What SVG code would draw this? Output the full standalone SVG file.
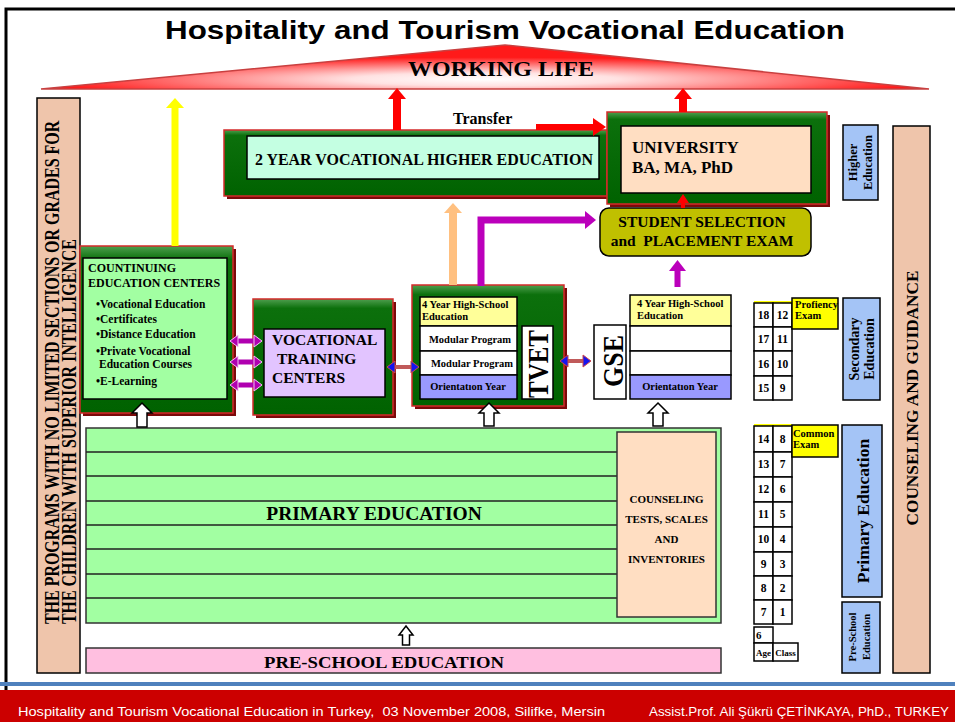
<svg xmlns="http://www.w3.org/2000/svg" width="955" height="722" viewBox="0 0 955 722">
<style>
.t{font-family:"Liberation Serif","Times New Roman",serif;font-weight:bold;fill:#000}
.g{fill:url(#grn);stroke:#d42a2a;stroke-width:1.5}
.sh{fill:#7a0a0a}
.k{stroke:#000;stroke-width:1.5}
.cell{fill:#fff;stroke:#000;stroke-width:1.5}
.side{fill:#a4c4f6;stroke:#000;stroke-width:1.5}
.peach{fill:#efc5ab;stroke:#000;stroke-width:1.5}
.wa{fill:#fff;stroke:#000;stroke-width:1.5}
.pa{fill:#b000b0;stroke:#f4c0f4;stroke-width:1}
.ba{fill:#1515f0;stroke:#d04848;stroke-width:1}
.yel{fill:#ffff00;stroke:#000;stroke-width:1.5}
.n{font-size:11.5px;text-anchor:middle}
.ft{font-family:"Liberation Sans",Arial,sans-serif;fill:#fff}
</style>
<defs>
<linearGradient id="grn" x1="0" y1="0" x2="0" y2="1">
<stop offset="0" stop-color="#4f9f4f"/><stop offset="0.08" stop-color="#0c700c"/><stop offset="1" stop-color="#006200"/>
</linearGradient>
<radialGradient id="wl" cx="0.5" cy="0.78" r="0.5">
<stop offset="0" stop-color="#ffffff"/><stop offset="0.3" stop-color="#ffe2e2"/><stop offset="1" stop-color="#ff1a1a"/>
</radialGradient>
</defs>
<rect width="955" height="722" fill="#fff"/>
<path d="M6,690 V9 H955" fill="none" stroke="#000" stroke-width="3"/>
<text x="505" y="39" text-anchor="middle" font-family="Liberation Sans,Arial,sans-serif" font-weight="bold" font-size="26" textLength="680" lengthAdjust="spacingAndGlyphs">Hospitality and Tourism Vocational Education</text>

<g id="working-life">
<polygon points="41,89 505,45 929,89" fill="url(#wl)" stroke="#c84040" stroke-width="1.5"/>
<text class="t" x="501" y="76" text-anchor="middle" font-size="22" textLength="186" lengthAdjust="spacingAndGlyphs">WORKING LIFE</text>
</g>

<g id="gifted-programs">
<rect x="37" y="98" width="43" height="575" class="peach"/>
<text class="t" transform="translate(59,624) rotate(-90) scale(0.8,1)" font-size="20" textLength="629" lengthAdjust="spacingAndGlyphs">THE PROGRAMS WITH NO LIMITED SECTIONS OR GRADES FOR</text>
<text class="t" transform="translate(76,624) rotate(-90) scale(0.8,1)" font-size="20" textLength="481" lengthAdjust="spacingAndGlyphs">THE CHILDREN WITH SUPERIOR INTELLIGENCE</text>
</g>

<g id="counseling-guidance">
<rect x="893" y="126" width="37" height="547" class="peach"/>
<text class="t" transform="translate(918,398) rotate(-90)" text-anchor="middle" font-size="17" textLength="255" lengthAdjust="spacingAndGlyphs">COUNSELING AND GUIDANCE</text>
</g>

<g id="higher-education">
<rect x="843" y="125" width="35" height="75" class="side"/>
<text class="t" transform="translate(857,162.5) rotate(-90)" text-anchor="middle" font-size="12.5">Higher</text>
<text class="t" transform="translate(872,162.5) rotate(-90)" text-anchor="middle" font-size="12.5">Education</text>
</g>
<g id="secondary-education">
<rect x="843" y="298" width="37" height="102" class="side"/>
<text class="t" transform="translate(859,349) rotate(-90)" text-anchor="middle" font-size="14">Secondary</text>
<text class="t" transform="translate(874,349) rotate(-90)" text-anchor="middle" font-size="14">Education</text>
</g>
<g id="primary-education-label">
<rect x="842" y="425" width="40" height="172" class="side"/>
<text class="t" transform="translate(869,511) rotate(-90)" text-anchor="middle" font-size="17.5">Primary Education</text>
</g>
<g id="preschool-education-label">
<rect x="842" y="602" width="38" height="71" class="side"/>
<text class="t" transform="translate(856,637) rotate(-90)" text-anchor="middle" font-size="10.5">Pre-School</text>
<text class="t" transform="translate(870,637) rotate(-90)" text-anchor="middle" font-size="10.5">Education</text>
</g>

<g id="age-table-upper">
<rect x="754" y="301" width="38" height="3" fill="#ffff00"/>
<rect x="754" y="303" width="19" height="24" class="cell"/><rect x="773" y="303" width="19" height="24" class="cell"/>
<rect x="754" y="327" width="19" height="24" class="cell"/><rect x="773" y="327" width="19" height="24" class="cell"/>
<rect x="754" y="351" width="19" height="25" class="cell"/><rect x="773" y="351" width="19" height="25" class="cell"/>
<rect x="754" y="376" width="19" height="24" class="cell"/><rect x="773" y="376" width="19" height="24" class="cell"/>
<text class="t n" x="763.5" y="319">18</text><text class="t n" x="782.5" y="319">12</text>
<text class="t n" x="763.5" y="343">17</text><text class="t n" x="782.5" y="343">11</text>
<text class="t n" x="763.5" y="368">16</text><text class="t n" x="782.5" y="368">10</text>
<text class="t n" x="763.5" y="392">15</text><text class="t n" x="782.5" y="392">9</text>
</g>
<g id="proficiency-exam">
<rect x="792" y="298" width="46" height="31" class="yel"/>
<text class="t" x="795" y="308" font-size="10.5">Profiency</text>
<text class="t" x="795" y="319" font-size="10.5">Exam</text>
</g>

<g id="age-table-lower">
<rect x="754" y="424" width="38" height="3" fill="#ffff00"/>
<rect x="754" y="426" width="19" height="26" class="cell"/><rect x="773" y="426" width="19" height="26" class="cell"/>
<rect x="754" y="452" width="19" height="25" class="cell"/><rect x="773" y="452" width="19" height="25" class="cell"/>
<rect x="754" y="477" width="19" height="25" class="cell"/><rect x="773" y="477" width="19" height="25" class="cell"/>
<rect x="754" y="502" width="19" height="25" class="cell"/><rect x="773" y="502" width="19" height="25" class="cell"/>
<rect x="754" y="527" width="19" height="25" class="cell"/><rect x="773" y="527" width="19" height="25" class="cell"/>
<rect x="754" y="552" width="19" height="24" class="cell"/><rect x="773" y="552" width="19" height="24" class="cell"/>
<rect x="754" y="576" width="19" height="24" class="cell"/><rect x="773" y="576" width="19" height="24" class="cell"/>
<rect x="754" y="600" width="19" height="24" class="cell"/><rect x="773" y="600" width="19" height="24" class="cell"/>
<text class="t n" x="763.5" y="443">14</text><text class="t n" x="782.5" y="443">8</text>
<text class="t n" x="763.5" y="468">13</text><text class="t n" x="782.5" y="468">7</text>
<text class="t n" x="763.5" y="493">12</text><text class="t n" x="782.5" y="493">6</text>
<text class="t n" x="763.5" y="518">11</text><text class="t n" x="782.5" y="518">5</text>
<text class="t n" x="763.5" y="543">10</text><text class="t n" x="782.5" y="543">4</text>
<text class="t n" x="763.5" y="568">9</text><text class="t n" x="782.5" y="568">3</text>
<text class="t n" x="763.5" y="592">8</text><text class="t n" x="782.5" y="592">2</text>
<text class="t n" x="763.5" y="616">7</text><text class="t n" x="782.5" y="616">1</text>
<rect x="754" y="627" width="19" height="16" class="cell"/>
<text class="t" x="756" y="639" font-size="11">6</text>
<rect x="754" y="643" width="19" height="18" class="cell"/>
<rect x="773" y="643" width="25" height="18" class="cell"/>
<text class="t" x="763.5" y="656" font-size="9" text-anchor="middle">Age</text>
<text class="t" x="785.5" y="656" font-size="9" text-anchor="middle">Class</text>
</g>
<g id="common-exam">
<rect x="792" y="425" width="46" height="32" class="yel"/>
<text class="t" x="793" y="437" font-size="10.5">Common</text>
<text class="t" x="793" y="448" font-size="10.5">Exam</text>
</g>

<g id="two-year-vocational">
<rect x="227" y="133" width="383" height="66" class="sh"/>
<rect x="224" y="130" width="383" height="66" class="g"/>
<rect x="247" y="136" width="352" height="43" fill="#c4ffe2" class="k"/>
<text class="t" x="255" y="165" font-size="16" textLength="338" lengthAdjust="spacingAndGlyphs">2 YEAR VOCATIONAL HIGHER EDUCATION</text>
</g>

<g id="university">
<rect x="610" y="115" width="220" height="92" class="sh"/>
<rect x="607" y="112" width="220" height="92" class="g"/>
<rect x="621" y="126" width="190" height="67" fill="#ffdec2" class="k"/>
<text class="t" x="632" y="153" font-size="17">UNIVERSITY</text>
<text class="t" x="632" y="173" font-size="17">BA, MA, PhD</text>
</g>

<g id="student-selection">
<rect x="600" y="208" width="211" height="48" rx="9" fill="#c0c000" class="k"/>
<text class="t" x="702" y="227" text-anchor="middle" font-size="15.5">STUDENT SELECTION</text>
<text class="t" x="702" y="246" text-anchor="middle" font-size="15.5" xml:space="preserve">and  PLACEMENT EXAM</text>
</g>

<g id="continuing-education">
<rect x="83" y="249" width="153" height="167" class="sh"/>
<rect x="80" y="246" width="153" height="167" class="g"/>
<rect x="83" y="258" width="144" height="141" fill="#a2ffa2" class="k"/>
<text class="t" x="88" y="272" font-size="12">COUNTINUING</text>
<text class="t" x="88" y="287" font-size="12">EDUCATION CENTERS</text>
<text class="t" x="96" y="308" font-size="11.5">•Vocational Education</text>
<text class="t" x="96" y="323" font-size="11.5">•Certificates</text>
<text class="t" x="96" y="338" font-size="11.5">•Distance Education</text>
<text class="t" x="96" y="355" font-size="11.5">•Private Vocational</text>
<text class="t" x="99" y="368" font-size="11.5">Education Courses</text>
<text class="t" x="96" y="385" font-size="11.5">•E-Learning</text>
</g>

<g id="vocational-training-centers">
<rect x="256" y="302" width="140" height="116" class="sh"/>
<rect x="253" y="299" width="140" height="116" class="g"/>
<rect x="264" y="329" width="121" height="68" fill="#e2c4ff" class="k"/>
<text class="t" x="272" y="345" font-size="15.5">VOCATIONAL</text>
<text class="t" x="277" y="364" font-size="15.5">TRAINING</text>
<text class="t" x="272" y="383" font-size="15.5">CENTERS</text>
</g>

<g id="tvet">
<rect x="415" y="288" width="152" height="121" class="sh"/>
<rect x="412" y="285" width="152" height="121" class="g"/>
<rect x="420" y="297" width="97" height="29" fill="#ffff99" class="k"/>
<rect x="420" y="326" width="97" height="25" fill="#fff" class="k"/>
<rect x="420" y="351" width="97" height="24" fill="#fff" class="k"/>
<rect x="420" y="375" width="97" height="24" fill="#9999ff" class="k"/>
<text class="t" x="422" y="308" font-size="10.5">4 Year High-School</text>
<text class="t" x="422" y="320" font-size="10.5">Education</text>
<text class="t" x="470" y="343" font-size="10.5" text-anchor="middle">Modular Program</text>
<text class="t" x="472" y="367" font-size="10.5" text-anchor="middle">Modular Program</text>
<text class="t" x="468" y="390" font-size="10.5" text-anchor="middle">Orientatıon Year</text>
<rect x="522" y="326" width="31" height="73" fill="#fff" class="k"/>
<text class="t" transform="translate(548,364) rotate(-90)" text-anchor="middle" font-size="30" textLength="68" lengthAdjust="spacingAndGlyphs">TVET</text>
</g>

<g id="gse">
<rect x="594" y="325" width="32" height="74" fill="#fff" class="k"/>
<text class="t" transform="translate(623,361) rotate(-90)" text-anchor="middle" font-size="30" textLength="52" lengthAdjust="spacingAndGlyphs">GSE</text>
</g>

<g id="high-school">
<rect x="630" y="295" width="101" height="31" fill="#ffff99" class="k"/>
<rect x="630" y="326" width="101" height="25" fill="#fff" class="k"/>
<rect x="630" y="351" width="101" height="24" fill="#fff" class="k"/>
<rect x="630" y="375" width="101" height="24" fill="#9999ff" class="k"/>
<text class="t" x="637" y="307" font-size="10.5">4 Year High-School</text>
<text class="t" x="637" y="319" font-size="10.5">Education</text>
<text class="t" x="680" y="390" font-size="10.5" text-anchor="middle">Orientatıon Year</text>
</g>

<g id="primary-education">
<rect x="86" y="428" width="635" height="195" fill="#a2ffa2" stroke="#333" stroke-width="1.5"/>
<path d="M86,452H617M86,476H617M86,501H617M86,525H617M86,549H617M86,574H617M86,598H617" stroke="#222" stroke-width="1.5"/>
<text class="t" x="374" y="520" text-anchor="middle" font-size="19.5">PRIMARY EDUCATION</text>
</g>
<g id="counseling-tests">
<rect x="617" y="432" width="99" height="185" fill="#ffdec2" stroke="#333" stroke-width="1.5"/>
<text class="t" x="666.5" y="503" text-anchor="middle" font-size="11">COUNSELING</text>
<text class="t" x="666.5" y="523" text-anchor="middle" font-size="11">TESTS, SCALES</text>
<text class="t" x="666.5" y="543" text-anchor="middle" font-size="11">AND</text>
<text class="t" x="666.5" y="563" text-anchor="middle" font-size="11">INVENTORIES</text>
</g>

<g id="preschool-education">
<rect x="86" y="648" width="635" height="25" fill="#ffbfe0" stroke="#333" stroke-width="1.5"/>
<text class="t" x="384" y="668" text-anchor="middle" font-size="17" textLength="240" lengthAdjust="spacingAndGlyphs">PRE-SCHOOL EDUCATION</text>
</g>

<g id="connectors">
<rect x="171.5" y="106" width="7" height="140" fill="#ffff00"/>
<polygon points="166,108 175,98 184,108" fill="#ffff00"/>
<rect x="393" y="97" width="8" height="33" fill="#ff0000"/>
<polygon points="388,99 397,88 406,99" fill="#ff0000"/>
<rect x="679" y="97" width="8" height="15" fill="#ff0000"/>
<polygon points="674,99 683,88 692,99" fill="#ff0000"/>
<text class="t" x="453" y="124" font-size="16">Transfer</text>
<rect x="536" y="124" width="58" height="6" fill="#ff0000"/>
<polygon points="593,118 606,127 593,136" fill="#ff0000"/>
<rect x="681" y="202" width="4" height="6" fill="#ff0000"/>
<polygon points="677,203 683,194 689,203" fill="#ff0000"/>
<rect x="449" y="212" width="8" height="73" fill="#ffc080"/>
<polygon points="444,213 453,203 462,213" fill="#ffc080"/>
<path d="M481,286 V220 H587" fill="none" stroke="#bb00bb" stroke-width="7"/>
<polygon points="585,211 596,220 585,229" fill="#bb00bb"/>
<rect x="674.5" y="270" width="6" height="17" fill="#bb00bb"/>
<polygon points="669,271 677.5,260 686,271" fill="#bb00bb"/>
<path d="M236,341H255M236,362H255M236,385H255" stroke="#b000b0" stroke-width="5"/>
<polygon class="pa" points="230,341 238,335 238,347"/>
<polygon class="pa" points="262,341 254,335 254,347"/>
<polygon class="pa" points="230,362 238,356 238,368"/>
<polygon class="pa" points="262,362 254,356 254,368"/>
<polygon class="pa" points="230,385 238,379 238,391"/>
<polygon class="pa" points="262,385 254,379 254,391"/>
<path d="M393,367H413" stroke="#c05a5a" stroke-width="4"/>
<polygon class="ba" points="387,367 395,361 395,373"/>
<polygon class="ba" points="419,367 411,361 411,373"/>
<path d="M566,361H585" stroke="#c05a5a" stroke-width="4"/>
<polygon class="ba" points="560,361 568,355 568,367"/>
<polygon class="ba" points="591,361 583,355 583,367"/>
<polygon class="wa" points="142,403 152,413 147,413 147,427 137,427 137,413 132,413"/>
<polygon class="wa" points="489,403 499,413 494,413 494,426 484,426 484,413 479,413"/>
<polygon class="wa" points="658,403 668,413 663,413 663,426 653,426 653,413 648,413"/>
<polygon class="wa" points="406,626 413,635 409.5,635 409.5,645 402.5,645 402.5,635 399,635"/>
</g>

<g id="footer">
<rect x="0" y="682" width="955" height="4" fill="#4f81bd"/>
<rect x="0" y="690" width="955" height="32" fill="#cc0000"/>
<text class="ft" x="18" y="716" font-size="13.5" textLength="587" lengthAdjust="spacingAndGlyphs" xml:space="preserve">Hospitality and Tourism Vocational Education in Turkey,  03 November 2008, Silifke, Mersin</text>
<text class="ft" x="649" y="716" font-size="12.5" textLength="300" lengthAdjust="spacingAndGlyphs">Assist.Prof. Ali Şükrü ÇETİNKAYA, PhD., TURKEY</text>
</g>
</svg>
